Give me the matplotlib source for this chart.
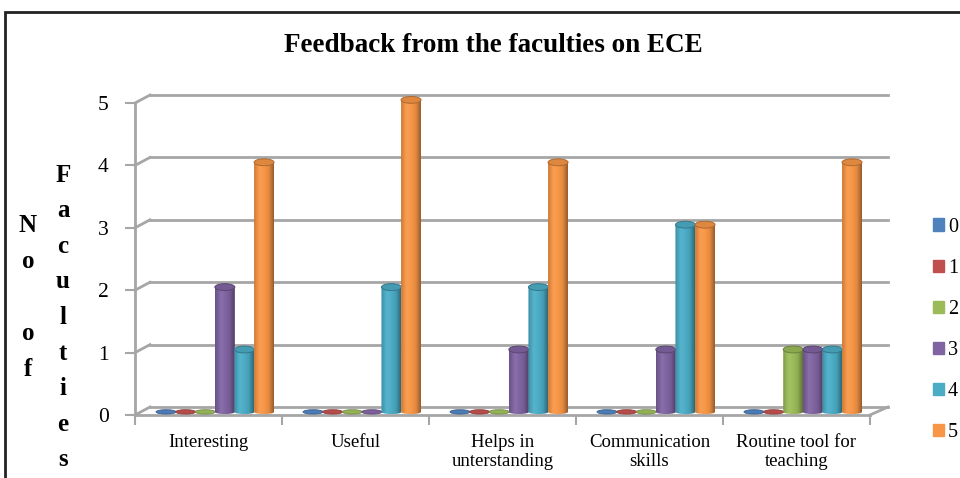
import numpy as np
import matplotlib
matplotlib.use("Agg")
import matplotlib.pyplot as plt
from matplotlib.patches import Polygon, Ellipse, Rectangle, Patch
from matplotlib.colors import to_rgb

# ---- data ----
categories = ["Interesting", "Useful", "Helps in\nunterstanding",
              "Communication\nskills", "Routine tool for\nteaching"]
series_names = ["0", "1", "2", "3", "4", "5"]
series_colors = ["#4F81BD", "#C0504D", "#9BBB59", "#8064A2", "#4BACC6", "#F79646"]
values = {
    "0": [0, 0, 0, 0, 0],
    "1": [0, 0, 0, 0, 0],
    "2": [0, 0, 0, 0, 1],
    "3": [2, 0, 1, 1, 1],
    "4": [1, 2, 2, 3, 1],
    "5": [4, 5, 4, 3, 4],
}
yticks = [0, 1, 2, 3, 4, 5]

SERIF = "Liberation Serif"
plt.rcParams["font.family"] = [SERIF, "DejaVu Serif"]

# 3d-look geometry (in data units)
DX, DY = 0.102, 0.128          # depth offset of back wall
BASE = 0.05                    # bar base (mid depth)
BAR_W = 0.136
SLOT0, SLOT_STEP = 0.211, 0.1334
TOP_H, FLAT_H = 0.11, 0.07
GRID = "#A6A6A6"


def shade(rgb, f):
    rgb = np.asarray(rgb)
    if f >= 1:
        return rgb + (1 - rgb) * (f - 1)
    return rgb * f


def cylinder(ax, xc, val, color, z):
    rgb = to_rgb(color)
    x0, x1 = xc - BAR_W / 2, xc + BAR_W / 2
    if val <= 0:
        ax.add_patch(Ellipse((xc, BASE), BAR_W, FLAT_H, facecolor=shade(rgb, 0.95),
                             edgecolor=shade(rgb, 0.75), lw=0.6, zorder=z))
        return
    top = BASE + val
    t = np.linspace(0, 1, 40)
    f = np.interp(t, [0, 0.3, 0.75, 1], [0.82, 1.08, 0.92, 0.62])
    grad = np.array([[shade(rgb, fi) for fi in f]])
    im = ax.imshow(grad, extent=[x0, x1, BASE - FLAT_H / 2, top], aspect="auto",
                   interpolation="bilinear", zorder=z)
    a = np.linspace(np.pi, 2 * np.pi, 30)
    verts = [(x0, top)] + list(zip(xc + BAR_W / 2 * np.cos(a),
                                   BASE + FLAT_H / 2 * np.sin(a))) + [(x1, top)]
    clip = Polygon(verts, closed=True, transform=ax.transData)
    im.set_clip_path(clip)
    ax.add_patch(Ellipse((xc, top), BAR_W, TOP_H, facecolor=shade(rgb, 0.9),
                         edgecolor=shade(rgb, 0.7), lw=0.7, zorder=z + 0.5))


fig = plt.figure(figsize=(9.6, 4.78), dpi=100)
ax = fig.add_axes([135 / 960, 63 / 478, 752.6 / 960, 330.7 / 478])
ncat = len(categories)
ax.set_xlim(0, ncat + 0.12)
ax.set_ylim(0, 5.3)
for s in ax.spines.values():
    s.set_visible(False)

# walls and floor
ax.plot([0, 0], [0, yticks[-1]], color=GRID, lw=2, zorder=1, clip_on=False)
for v in yticks:
    ax.plot([0, DX], [v, v + DY], color=GRID, lw=2, zorder=1, clip_on=False)
    ax.plot([DX, ncat + DX + 0.02], [v + DY, v + DY], color=GRID, lw=2, zorder=1,
            clip_on=False)
ax.plot([0, ncat], [0, 0], color=GRID, lw=2, zorder=1, clip_on=False)
ax.plot([ncat, ncat + DX + 0.02], [0, DY], color=GRID, lw=2, zorder=1, clip_on=False)

# bars
for j, name in enumerate(series_names):
    for i, v in enumerate(values[name]):
        cylinder(ax, i + SLOT0 + j * SLOT_STEP, v, series_colors[j], 3 + j)

# ticks
ax.set_yticks(yticks)
ax.set_yticklabels([str(v) for v in yticks], fontsize=15.5)
ax.tick_params(axis="y", length=7, width=1.5, color=GRID, pad=12)
ax.set_xticks(range(ncat + 1))
ax.set_xticklabels([])
ax.tick_params(axis="x", which="major", length=7, width=1.5, color=GRID)
ax.set_xticks([i + 0.5 for i in range(ncat)], minor=True)
ax.set_xticklabels(categories, minor=True, fontsize=13.5, linespacing=1.15)
ax.tick_params(axis="x", which="minor", length=0, pad=14)

# title
fig.text(493 / 960, 1 - 45 / 478, "Feedback from the faculties on ECE",
         ha="center", va="center", fontsize=19.5, fontweight="bold")

# stacked y label
for k, ch in enumerate(["N", "o", "", "o", "f"]):
    fig.text(28 / 960, 1 - (225 + 36 * k) / 478, ch, ha="center", va="center",
             fontsize=18, fontweight="bold")
for k, ch in enumerate("Faculties"):
    fig.text(63 / 960, 1 - (175 + 35.6 * k) / 478, ch, ha="center", va="center",
             fontsize=18, fontweight="bold")

# legend
handles = [Patch(facecolor=c, edgecolor=c) for c in series_colors]
fig.legend(handles, series_names, loc="center left",
           bbox_to_anchor=(933 / 960, 1 - 330 / 478), frameon=False,
           fontsize=14.5, handlelength=0.55, handleheight=0.55, handletextpad=0.2,
           labelspacing=1.1, borderaxespad=0, borderpad=0)

# outer border
fig.add_artist(Rectangle((5 / 960, -0.1), 1.2, 1.1 - 12 / 478, transform=fig.transFigure,
                         fill=False, edgecolor="#222222", lw=2))

fig.savefig("out.png", dpi=100)
